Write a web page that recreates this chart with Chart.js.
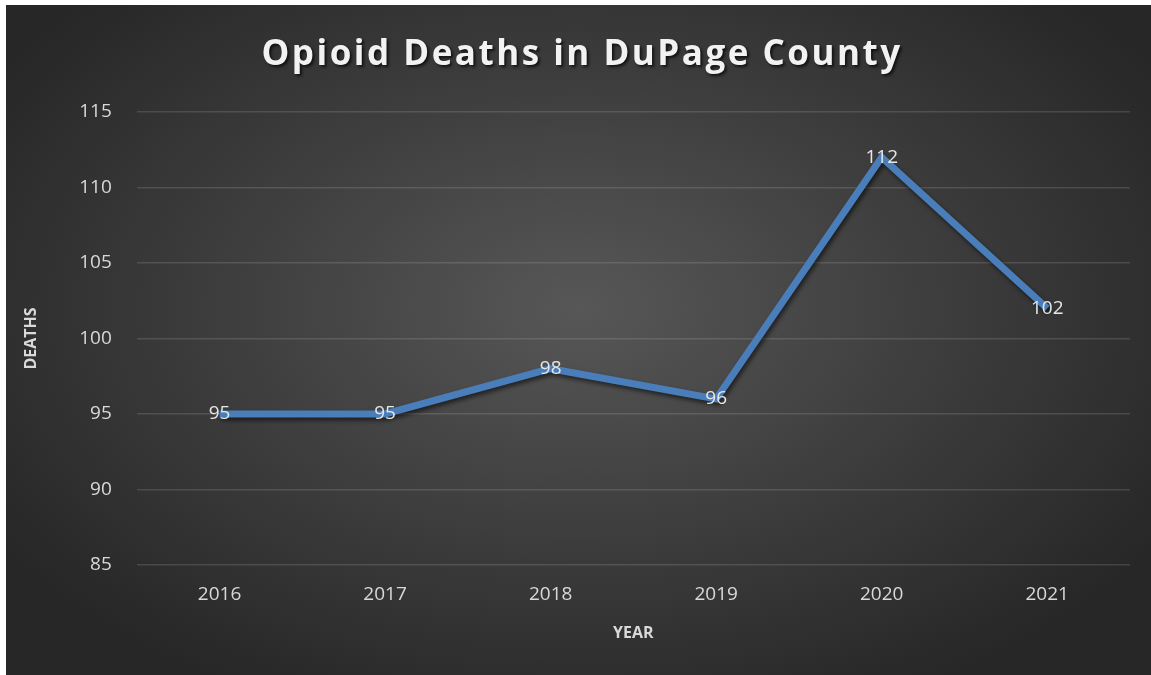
<!DOCTYPE html>
<html lang="en">
<head>
    <meta charset="UTF-8">
    <title>Opioid Deaths in DuPage County</title>
    <script src="https://cdn.jsdelivr.net/npm/chart.js"></script>
    <style>
        body {
            margin: 0;
            background: #ffffff;
            width: 1151px;
            height: 675px;
            overflow: hidden;
        }
        .chart-box {
            position: absolute;
            left: 6px;
            top: 5px;
            width: 1145px;
            height: 670px;
            background: radial-gradient(ellipse 60% 65% at 50% 45%, #575757 0%, #3c3c3c 55%, #272727 100%);
        }
    </style>
</head>
<body>
    <div class="chart-box">
        <canvas id="lineChart" width="1145" height="670"></canvas>
    </div>

    <script>
        // data
        const years = ["2016", "2017", "2018", "2019", "2020", "2021"];
        const deaths = [95, 95, 98, 96, 112, 102];
        const chartTitle = "Opioid Deaths in DuPage County";

        // title drawn with letter spacing + shadow
        const titlePlugin = {
            id: 'spacedTitle',
            afterDraw(chart) {
                const ctx = chart.ctx;
                ctx.save();
                ctx.font = 'bold 35px "Open Sans", sans-serif';
                ctx.letterSpacing = '2.5px';
                ctx.fillStyle = '#f2f2f2';
                ctx.textAlign = 'center';
                ctx.textBaseline = 'middle';
                ctx.shadowColor = 'rgba(0,0,0,0.7)';
                ctx.shadowOffsetX = 2;
                ctx.shadowOffsetY = 2;
                ctx.shadowBlur = 3;
                ctx.fillText(chartTitle, 576, 50);
                ctx.restore();
            }
        };

        // shadow under the line
        const lineShadow = {
            id: 'lineShadow',
            beforeDatasetDraw(chart) {
                const ctx = chart.ctx;
                ctx.save();
                ctx.shadowColor = 'rgba(0,0,0,0.55)';
                ctx.shadowOffsetX = 2;
                ctx.shadowOffsetY = 3;
                ctx.shadowBlur = 4;
            },
            afterDatasetDraw(chart) {
                chart.ctx.restore();
            }
        };

        // value labels centred on each point
        const valueLabels = {
            id: 'valueLabels',
            afterDatasetsDraw(chart) {
                const ctx = chart.ctx;
                const meta = chart.getDatasetMeta(0);
                ctx.save();
                ctx.font = '19px "Open Sans", sans-serif';
                ctx.fillStyle = '#e6e6e6';
                ctx.textAlign = 'center';
                ctx.textBaseline = 'middle';
                meta.data.forEach((pt, i) => {
                    ctx.fillText(deaths[i], pt.x, pt.y);
                });
                ctx.restore();
            }
        };

        const ctx = document.getElementById('lineChart').getContext('2d');
        new Chart(ctx, {
            type: 'line',
            data: {
                labels: years,
                datasets: [{
                    label: 'Deaths',
                    data: deaths,
                    borderColor: '#4a7ebb',
                    borderWidth: 7,
                    pointRadius: 0,
                    tension: 0,
                    fill: false
                }]
            },
            options: {
                responsive: false,
                animation: false,
                devicePixelRatio: 1,
                layout: {
                    padding: { top: 107, right: 21, bottom: 28, left: 12 }
                },
                plugins: {
                    legend: { display: false },
                    tooltip: { enabled: false }
                },
                scales: {
                    x: {
                        offset: true,
                        grid: { display: false },
                        border: { display: false },
                        ticks: {
                            color: '#d9d9d9',
                            font: { size: 19, family: '"Open Sans", sans-serif' },
                            padding: 10
                        },
                        title: {
                            display: true,
                            text: 'YEAR',
                            color: '#d9d9d9',
                            font: { size: 16, weight: 'bold', family: '"Open Sans", sans-serif' },
                            padding: { top: 8 }
                        }
                    },
                    y: {
                        min: 85,
                        max: 115,
                        ticks: {
                            stepSize: 5,
                            color: '#d9d9d9',
                            font: { size: 19, family: '"Open Sans", sans-serif' },
                            padding: 25
                        },
                        grid: {
                            color: 'rgba(255,255,255,0.13)',
                            lineWidth: 1.5,
                            drawTicks: false
                        },
                        border: { display: false },
                        title: {
                            display: true,
                            text: 'DEATHS',
                            color: '#d9d9d9',
                            font: { size: 16, weight: 'bold', family: '"Open Sans", sans-serif' },
                            padding: { bottom: 13 }
                        }
                    }
                }
            },
            plugins: [titlePlugin, lineShadow, valueLabels]
        });
    </script>
</body>
</html>
